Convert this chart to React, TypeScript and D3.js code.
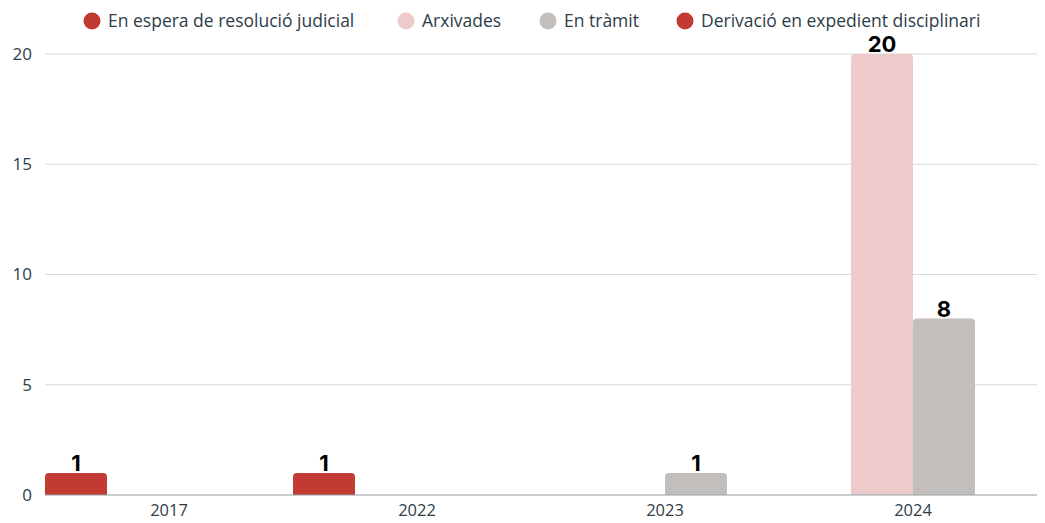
import React from "react";
import * as d3 from "d3";

const categories = ["2017", "2022", "2023", "2024"];
const seriesNames = [
  "En espera de resolució judicial",
  "Arxivades",
  "En tràmit",
  "Derivació en expedient disciplinari",
];
const seriesColors = ["#c23b33", "#edcbcb", "#c1bebb", "#c23b33"];
const enEspera = [1, 1, 0, 0];
const arxivades = [0, 0, 0, 20];
const enTramit = [0, 0, 1, 8];
const derivacio = [0, 0, 0, 0];
const yTicks = [0, 5, 10, 15, 20];

const seriesValues = [enEspera, arxivades, enTramit, derivacio];

const W = 1045;
const H = 523;
const margin = { top: 54, right: 8, bottom: 28, left: 45 };

function topRounded(x: number, y: number, w: number, h: number, r: number) {
  const rr = Math.min(r, h, w / 2);
  return `M${x},${y + h}V${y + rr}Q${x},${y} ${x + rr},${y}H${x + w - rr}Q${x + w},${y} ${x + w},${y + rr}V${y + h}Z`;
}

export default function App() {
  const x0 = d3
    .scaleBand<string>()
    .domain(categories)
    .range([margin.left, W - margin.right])
    .padding(0);
  const x1 = d3
    .scaleBand<number>()
    .domain(d3.range(seriesNames.length))
    .range([0, x0.bandwidth()])
    .padding(0);
  const y = d3
    .scaleLinear()
    .domain([0, 20])
    .range([H - margin.bottom, margin.top]);

  const legendX = [85, 399, 541, 678];
  const font = "'Open Sans', 'Noto Sans', sans-serif";

  return (
    <svg width={W} height={H} style={{ position: "absolute", left: 0, top: 0, background: "#fff" }}>
      {yTicks.map((t) => (
        <g key={t}>
          {t !== 0 && (
            <line x1={margin.left} x2={W - margin.right} y1={y(t)} y2={y(t)} stroke="#d9d9d9" strokeWidth={1} />
          )}
          <text x={32} y={y(t)} dy="0.35em" textAnchor="end" fontSize={17} fill="#2e3d48" fontFamily={font}>
            {t}
          </text>
        </g>
      ))}
      {categories.map((c, ci) =>
        seriesValues.map((vals, si) => {
          const v = vals[ci];
          if (!v) return null;
          const bx = (x0(c) as number) + (x1(si) as number);
          const bw = x1.bandwidth();
          const by = y(v);
          const bh = y(0) - by;
          return (
            <g key={`${c}-${si}`}>
              <path d={topRounded(bx, by, bw, bh, 4)} fill={seriesColors[si]} />
              <text
                x={bx + bw / 2}
                y={by - 2}
                textAnchor="middle"
                fontSize={22}
                fontWeight={700}
                fill="#000"
                fontFamily="Inter, 'Noto Sans', sans-serif"
              >
                {v}
              </text>
            </g>
          );
        })
      )}
      <line x1={margin.left} x2={W - margin.right} y1={y(0)} y2={y(0)} stroke="#9aa0a6" strokeWidth={1} />
      {categories.map((c) => (
        <text
          key={c}
          x={(x0(c) as number) + x0.bandwidth() / 2}
          y={y(0) + 21}
          textAnchor="middle"
          fontSize={16.5}
          fill="#2e3d48"
          fontFamily={font}
        >
          {c}
        </text>
      ))}
      {seriesNames.map((s, i) => (
        <g key={s} transform={`translate(${legendX[i]},21)`}>
          <circle cx={7} cy={0} r={8.5} fill={seriesColors[i]} />
          <text x={23} y={0} dy="0.35em" fontSize={17.5} fill="#2e3d48" fontFamily={font}>
            {s}
          </text>
        </g>
      ))}
    </svg>
  );
}
